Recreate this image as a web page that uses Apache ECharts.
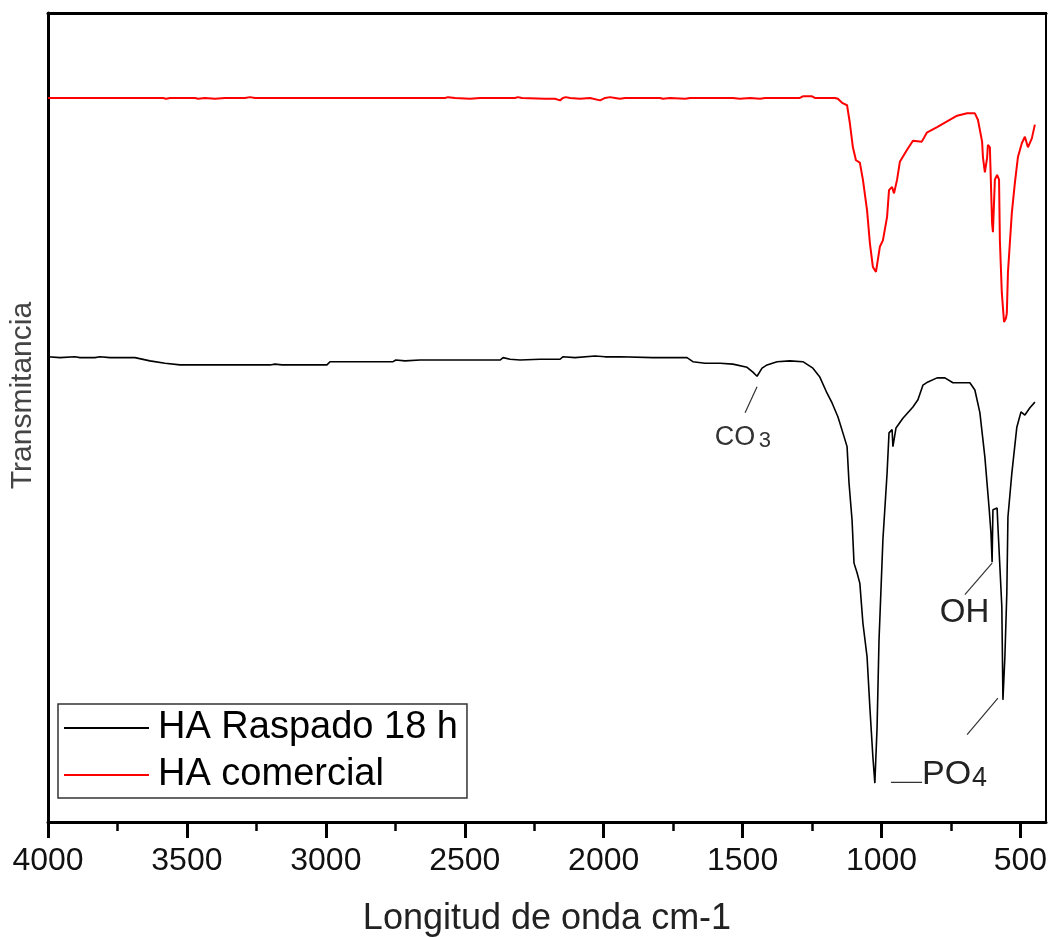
<!DOCTYPE html>
<html><head><meta charset="utf-8">
<script src="https://cdn.jsdelivr.net/npm/echarts@6/dist/echarts.min.js"></script>
<style>html,body{margin:0;padding:0;background:#fff}#c{width:1048px;height:937px}</style>
</head><body><div id="c"></div>
<script>
const seriesNames = ['HA Raspado 18 h', 'HA comercial'];
const xTickLabels = [4000, 3500, 3000, 2500, 2000, 1500, 1000, 500];
const xMinorTicks = [3750, 3250, 2750, 2250, 1750, 1250, 750];
const xTitle = 'Longitud de onda cm-1';
const yTitle = 'Transmitancia';

// HA Raspado 18 h (black)
const raspadoWn = [4000,3957,3903,3885,3831,3813,3777,3687,3633,3579,3525,3201,3183,3158,2996,2985,2758,2748,2715,2661,2589,2373,2362,2337,2301,2229,2157,2147,2103,2031,1995,1941,1823,1700,1679,1635,1581,1535,1484,1463,1448,1430,1412,1376,1330,1283,1247,1222,1196,1178,1157,1139,1124,1117,1106,1099,1088,1078,1067,1052,1042,1031,1024,1016,1009,995,980,973,962,959,948,923,887,869,851,833,800,772,743,710,682,664,646,628,613,606,602,599,584,581,567,563,556,549,545,531,513,498,484,466,448];
const raspadoT = [57.5,57.4,57.5,57.4,57.4,57.5,57.4,57.4,57.0,56.7,56.5,56.5,56.6,56.5,56.5,56.9,56.9,57.1,57.0,57.1,57.1,57.1,57.4,57.2,57.1,57.2,57.2,57.5,57.4,57.6,57.5,57.5,57.4,57.4,56.9,56.7,56.7,56.6,56.2,55.6,55.1,56.1,56.5,56.9,57.0,56.9,56.1,55.0,53.0,51.8,50.1,48.1,46.4,41.9,37.3,32.0,30.8,29.5,24.6,20.4,14.2,8.0,4.8,11.7,22.5,34.9,43.1,48.1,48.5,46.4,48.7,49.9,51.3,52.2,54.0,54.4,54.9,54.9,54.3,54.3,54.3,53.4,50.6,45.1,38.9,35.7,32.1,38.6,38.8,36.5,26.6,15.1,20.4,28.3,37.7,43.1,48.8,50.7,50.3,51.2,51.9];

// HA comercial (red)
const comercialWn = [4000,3586,3575,3561,3471,3460,3435,3399,3363,3291,3273,3255,2571,2560,2535,2481,2445,2319,2309,2294,2211,2175,2157,2147,2136,2121,2085,2049,2013,1995,1977,1959,1941,1923,1797,1787,1761,1707,1689,1535,1510,1473,1437,1419,1294,1283,1250,1240,1168,1157,1142,1124,1114,1103,1092,1078,1067,1052,1042,1031,1020,1013,1006,995,980,973,962,955,944,934,908,887,855,837,800,764,728,692,664,653,638,635,628,620,617,610,602,599,592,584,577,574,567,559,552,549,545,538,531,520,509,495,484,473,459,448];
const comercialT = [89.5,89.5,89.4,89.5,89.5,89.4,89.5,89.4,89.5,89.5,89.6,89.5,89.5,89.6,89.5,89.4,89.5,89.5,89.6,89.5,89.4,89.4,89.2,89.5,89.6,89.5,89.4,89.5,89.2,89.5,89.6,89.5,89.4,89.5,89.5,89.4,89.5,89.4,89.5,89.5,89.4,89.5,89.4,89.5,89.5,89.7,89.7,89.5,89.5,89.4,88.9,88.6,86.4,83.4,81.8,81.5,79.4,75.6,71.6,68.6,68.0,68.2,71.1,71.9,74.8,78.1,78.5,77.7,79.4,81.6,83.1,84.2,84.1,85.2,85.9,86.6,87.3,87.6,87.6,86.8,84.1,82.2,80.3,82.1,83.7,83.4,74.0,72.9,79.4,80.0,79.4,71.9,65.4,61.8,62.3,62.9,67.9,71.6,75.3,79.0,82.2,83.9,84.7,83.4,84.5,86.2];

// Annotations (anchored in data coordinates: [wavenumber, transmittance])
const annotLines = [
  [[1448, 53.8], [1491, 50.6]],
  [[602, 32.0], [700, 28.1]],
  [[581, 15.3], [692, 10.8]],
  [[966, 4.9], [854, 4.9]]
];
const annotTexts = [
  {text: 'CO', at: [1600, 47.5], size: 27, color: '#333'},
  {text: '3', at: [1442, 47.1], size: 22, color: '#333'},
  {text: 'OH', at: [790, 25.8], size: 33, color: '#222'},
  {text: 'PO', at: [854, 5.8], size: 34, color: '#222'},
  {text: '4', at: [674, 5.4], size: 27, color: '#222'}
];

const FONT = 'Liberation Sans, Arial, sans-serif';
const toPairs = (xs, ys) => xs.map((x, i) => [x, ys[i]]);

const chart = echarts.init(document.getElementById('c'), null, {renderer: 'canvas'});
const option = {
  animation: false,
  backgroundColor: '#fff',
  grid: {left: 48, right: 2, top: 13, bottom: 115, containLabel: false, outerBoundsMode: 'none'},
  legend: {
    orient: 'vertical', left: 58, top: 704,
    backgroundColor: '#fff', borderColor: '#333', borderWidth: 1.5,
    padding: [5, 9, 4, 6],
    itemWidth: 85, itemHeight: 2, itemGap: 9, icon: 'rect',
    textStyle: {fontFamily: FONT, fontSize: 38, color: '#000', padding: [0, 0, 0, 4]},
    data: seriesNames
  },
  xAxis: [
    {
      type: 'value', position: 'bottom', min: 408, max: 4000, inverse: true,
      axisLine: {onZero: false, lineStyle: {color: '#000', width: 3}},
      axisTick: {show: true, inside: false, length: 16, lineStyle: {color: '#000', width: 3}, customValues: xTickLabels},
      axisLabel: {customValues: xTickLabels, formatter: v => String(v), fontFamily: FONT, fontSize: 32, color: '#111', margin: 23},
      splitLine: {show: false},
      name: xTitle, nameLocation: 'middle', nameGap: 79,
      nameTextStyle: {fontFamily: FONT, fontSize: 36, color: '#222'}
    },
    {
      type: 'value', position: 'bottom', min: 408, max: 4000, inverse: true,
      axisLine: {show: false, onZero: false},
      axisTick: {show: true, inside: false, length: 9, lineStyle: {color: '#000', width: 2.5}, customValues: xMinorTicks},
      axisLabel: {show: false},
      splitLine: {show: false}
    },
    {
      type: 'value', position: 'top', min: 408, max: 4000, inverse: true,
      axisLine: {onZero: false, lineStyle: {color: '#000', width: 3}},
      axisTick: {show: false}, axisLabel: {show: false}, splitLine: {show: false}
    }
  ],
  yAxis: [
    {
      type: 'value', position: 'left', min: 0, max: 100,
      axisLine: {show: true, onZero: false, lineStyle: {color: '#000', width: 3}},
      axisTick: {show: false}, axisLabel: {show: false}, splitLine: {show: false},
      name: yTitle, nameLocation: 'middle', nameGap: 10,
      nameTextStyle: {fontFamily: FONT, fontSize: 30, color: '#444', padding: [0, 0, 0, 44]}
    },
    {
      type: 'value', position: 'right', min: 0, max: 100,
      axisLine: {show: true, onZero: false, lineStyle: {color: '#000', width: 2}},
      axisTick: {show: false}, axisLabel: {show: false}, splitLine: {show: false}
    }
  ],
  series: [
    {
      name: seriesNames[0], type: 'line', xAxisIndex: 0, yAxisIndex: 0,
      data: toPairs(raspadoWn, raspadoT), symbol: 'none', smooth: false,
      color: '#000', lineStyle: {color: '#000', width: 1.6}
    },
    {
      name: seriesNames[1], type: 'line', xAxisIndex: 0, yAxisIndex: 0,
      data: toPairs(comercialWn, comercialT), symbol: 'none', smooth: false,
      color: '#ff0000', lineStyle: {color: '#ff0000', width: 2}
    }
  ]
};
chart.setOption(option);

const px = p => chart.convertToPixel({xAxisIndex: 0, yAxisIndex: 0}, p);
const graphics = [];
annotLines.forEach(l => {
  const a = px(l[0]), b = px(l[1]);
  graphics.push({type: 'line', silent: true, z: 10,
    shape: {x1: a[0], y1: a[1], x2: b[0], y2: b[1]},
    style: {stroke: '#333', lineWidth: 1.2}});
});
annotTexts.forEach(t => {
  const a = px(t.at);
  graphics.push({type: 'text', silent: true, z: 10, x: a[0], y: a[1],
    style: {text: t.text, fontFamily: FONT, fontSize: t.size, fill: t.color, align: 'left', verticalAlign: 'middle'}});
});
chart.setOption({graphic: graphics});
</script>
</body></html>
